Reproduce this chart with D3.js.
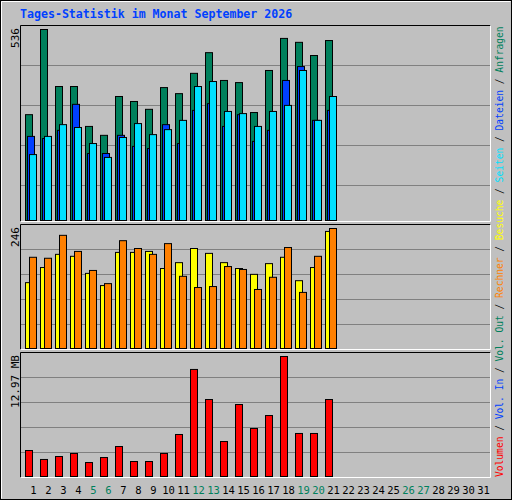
<!DOCTYPE html>
<html><head><meta charset="utf-8">
<script src="https://cdn.jsdelivr.net/npm/d3@7"></script>
<style>body{margin:0;background:#fff}</style>
</head><body>
<svg id="c" width="512" height="500"></svg>
<script>
const days = d3.range(1, 32);
const weekend = [5, 6, 12, 13, 19, 20, 26, 27];
// values for days 1..21 (rest of month empty)
const hits = [297, 536, 376, 376, 264, 239, 348, 334, 312, 373, 356, 413, 471, 393, 387, 303, 421, 511, 500, 463, 505];
const files = [236, 230, 253, 326, 188, 188, 239, 208, 202, 269, 216, 309, 328, 264, 297, 222, 253, 393, 432, 281, 309];
const pages = [185, 236, 269, 261, 216, 177, 233, 272, 241, 255, 281, 376, 390, 306, 300, 264, 306, 323, 421, 281, 348];
const visits = [135, 166, 193, 189, 154, 129, 197, 197, 199, 164, 176, 205, 195, 176, 164, 152, 174, 187, 139, 166, 240];
const hosts = [187, 185, 232, 199, 160, 133, 221, 205, 193, 215, 148, 125, 127, 168, 162, 121, 146, 207, 115, 189, 246];
const volume = [2.81, 1.84, 2.16, 2.49, 1.51, 2.05, 3.24, 1.62, 1.62, 2.49, 4.54, 11.57, 8.32, 3.78, 7.78, 5.19, 6.59, 12.97, 4.65, 4.65, 8.32];
const maxLabels = ['536', '246', '12.97 MB'];

const svg = d3.select('#c');
const mono = 'DejaVu Sans Mono, monospace';

svg.append('rect').attr('width', 512).attr('height', 500).attr('fill', '#c0c0c0');
svg.append('rect').attr('x', 0.5).attr('y', 0.5).attr('width', 511).attr('height', 499)
  .attr('fill', 'none').attr('stroke', '#000');
svg.append('path').attr('d', 'M1.5,498.5V1.5H510.5').attr('stroke', '#fff').attr('fill', 'none');

svg.append('text').attr('x', 20).attr('y', 18).attr('fill', '#0040ff')
  .attr('font-family', mono).attr('font-weight', 'bold').attr('font-size', 11.6)
  .text('Tages-Statistik im Monat September 2026');

const x = d3.scaleBand().domain(days).range([25, 490]);

const panels = [
  { top: 25, bot: 221, max: 536, y0: 220, y1: 29, grid: [65, 105, 145, 185] },
  { top: 224, bot: 349, max: 246, y0: 348, y1: 228, grid: [249, 274, 299, 324] },
  { top: 352, bot: 477, max: 12.97, y0: 476, y1: 356, grid: [377, 402, 427, 452] }
];

panels.forEach((p, i) => {
  svg.append('rect').attr('x', 20).attr('y', p.top).attr('width', 471).attr('height', p.bot - p.top)
    .attr('fill', '#c0c0c0');
  svg.append('path').attr('d', `M20.5,${p.bot + 0.5}V${p.top + 0.5}H490.5`).attr('stroke', '#000').attr('fill', 'none');
  svg.append('path').attr('d', `M20.5,${p.bot + 0.5}H490.5V${p.top + 0.5}`).attr('stroke', '#fff').attr('fill', 'none');
  svg.selectAll(null).data(p.grid).join('line')
    .attr('x1', 21).attr('x2', 490).attr('y1', d => d + 0.5).attr('y2', d => d + 0.5)
    .attr('stroke', '#808080');
  p.y = d3.scaleLinear().domain([0, p.max]).range([p.y0, p.y1]);
  svg.append('text').attr('transform', `translate(19,${p.top + 3}) rotate(-90)`)
    .attr('text-anchor', 'end').attr('font-family', mono).attr('font-size', 11)
    .text(maxLabels[i]);
});

function bars(vals, p, off, w, color) {
  svg.append('g').selectAll('rect').data(vals).join('rect')
    .attr('x', (d, i) => x(i + 1) + off + 0.5)
    .attr('y', d => p.y(d) + 0.5)
    .attr('width', w)
    .attr('height', d => p.y0 - p.y(d))
    .attr('fill', color).attr('stroke', '#000');
}
bars(hits, panels[0], 0, 7, '#00805c');
bars(files, panels[0], 2, 7, '#0040ff');
bars(pages, panels[0], 4, 7, '#00e0ff');
bars(visits, panels[1], 0, 7, '#ffff00');
bars(hosts, panels[1], 4, 7, '#ff8000');
bars(volume, panels[2], 0, 7, '#ff0000');

svg.append('g').selectAll('text').data(days).join('text')
  .attr('x', d => x(d) + x.bandwidth() / 2 + 1)
  .attr('y', 494).attr('text-anchor', 'middle')
  .attr('font-family', mono).attr('font-size', 10.5)
  .attr('fill', d => weekend.includes(d) ? '#00805c' : '#000')
  .text(d => d);

const legend = [
  ['Volumen', '#ff0000'], ['Vol. In', '#0040ff'], ['Vol. Out', '#00805c'], ['Rechner', '#ff8000'],
  ['Besuche', '#ffff00'], ['Seiten', '#00e0ff'], ['Dateien', '#0040ff'], ['Anfragen', '#00805c']
];
const lt = svg.append('text').attr('transform', 'translate(503,477) rotate(-90)')
  .attr('font-family', mono).attr('font-size', 9.6);
legend.forEach(([t, c], i) => {
  if (i) lt.append('tspan').attr('fill', '#000').text(' / ');
  lt.append('tspan').attr('fill', c).text(t);
});
</script>
</body></html>
